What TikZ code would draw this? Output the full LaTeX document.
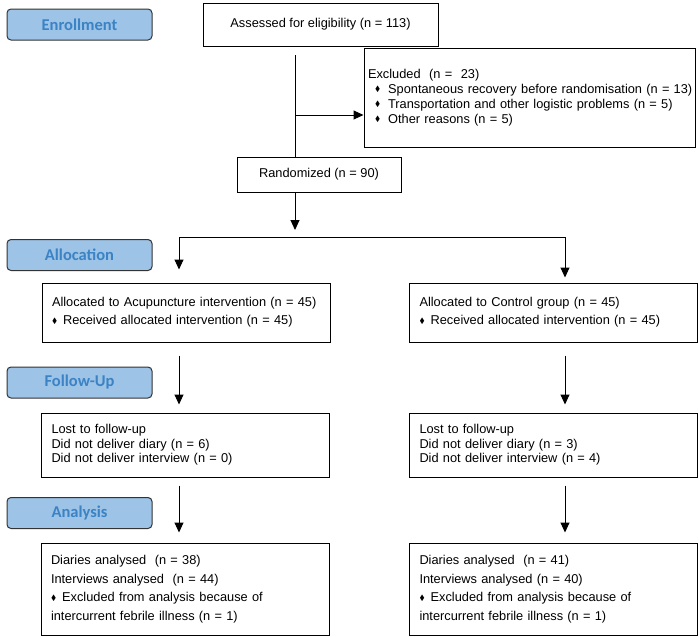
\documentclass[tikz,border=0pt]{standalone}
\usepackage{amssymb}
\usepackage{fontspec}
\setmainfont{Liberation Sans}
\newfontfamily\stagefont{Carlito}
\usetikzlibrary{arrows.meta}
\definecolor{stagefill}{HTML}{9DC3E6}
\definecolor{stagetext}{HTML}{3B83C4}
\newcommand{\dia}{\raisebox{0.2ex}{\scalebox{0.6}{$\blacklozenge$}}}

\begin{document}
\begin{tikzpicture}[
	>={Triangle[width=9pt,length=10pt]},
	line width=1pt,
	x=1pt,y=-1pt,
	font=\fontsize{12.8}{15}\selectfont,
	stage/.style={draw=black!80, fill=stagefill, rounded corners=4pt,
		minimum width=145pt, minimum height=31pt, text=stagetext,
		font=\stagefont\bfseries\fontsize{16.5}{16.5}\selectfont},
	box/.style={draw, inner ysep=0pt, align=left},
	armbox/.style={box, text width=268pt, inner xsep=10pt},
	]
\useasboundingbox (0,0) rectangle (699,637);

% stages
			\node[stage] (enroll)   at (79.5, 24.5) {Enrollment};
			\node[stage] (alloc)    at (79.5, 255) {Allocation};
			\node[stage] (follow)   at (79.5, 382.5) {Follow-Up};
			\node[stage] (analysis) at (79.5, 513) {Analysis};

% enrollment
			\node[box, align=center, minimum width=235pt, minimum height=43pt] (assessed) at (320.5, 24.5) {Assessed for eligibility (n = 113)};
			\node[box, text width=323pt, inner xsep=4pt, minimum height=99pt] (excl) at (529.5, 97.5) {Excluded\ \ (n =\ \ 23)\\
				\mbox{\hspace*{7pt}\dia\hspace{8pt}Spontaneous recovery before randomisation (n = 13)}\\
				\mbox{\hspace*{7pt}\dia\hspace{8pt}Transportation and other logistic problems (n = 5)}\\
				\mbox{\hspace*{7pt}\dia\hspace{8pt}Other reasons (n = 5)}\\[3pt]};
			\node[box, align=center, minimum width=164pt, minimum height=35pt] (random) at (319, 174.5) {Randomized (n = 90)};

% arms
			\node[armbox, minimum height=59pt, font=\fontsize{12.8}{18}\selectfont] (allocL) at (186, 312.5) {Allocated to Acupuncture intervention (n = 45)\\
				\dia\hspace{6pt}Received allocated intervention (n = 45)};
			\node[armbox, minimum height=59pt, font=\fontsize{12.8}{18}\selectfont] (allocR) at (553.5, 312.5) {Allocated to Control group (n = 45)\\
				\dia\hspace{6pt}Received allocated intervention (n = 45)};
			\node[armbox, minimum height=64pt, font=\fontsize{12.8}{14.5}\selectfont] (followL) at (185.5, 445) {Lost to follow-up\\
				Did not deliver diary (n = 6)\\
				Did not deliver interview (n = 0)};
			\node[armbox, minimum height=64pt, font=\fontsize{12.8}{14.5}\selectfont] (followR) at (553.5, 445) {Lost to follow-up\\
				Did not deliver diary (n = 3)\\
				Did not deliver interview (n = 4)};
			\node[armbox, minimum height=92pt, font=\fontsize{12.8}{18.5}\selectfont] (analysisL) at (185, 589) {Diaries analysed\ \ (n = 38)\\
				Interviews analysed\ \ (n = 44)\\
				\dia\hspace{6pt}Excluded from analysis because of\\
				intercurrent febrile illness (n = 1)};
			\node[armbox, minimum height=92pt, font=\fontsize{12.8}{18.5}\selectfont] (analysisR) at (553.5, 589) {Diaries analysed\ \ (n = 41)\\
				Interviews analysed (n = 40)\\
				\dia\hspace{6pt}Excluded from analysis because of\\
				intercurrent febrile illness (n = 1)};

% connectors
			\coordinate (trunk)    at (295, 55);
			\coordinate (excljoin) at (295, 115);
			\coordinate (split)    at (295, 237);
			\coordinate (splitL)   at (179, 237);
			\coordinate (splitR)   at (565, 237);

			\draw (trunk) -- (trunk |- random.north);
			\draw[->] (excljoin) -- (excljoin -| excl.west);
			\draw[->, shorten >=7pt] (random.south -| trunk) -- (split);
			\draw (splitL) -- (splitR);
			\draw[->, shorten >=13pt] (splitL) -- (splitL |- allocL.north);
			\draw[->, shorten >=5pt] (splitR) -- (splitR |- allocR.north);
			\draw[->, shorten <=13pt, shorten >=8pt] (allocL.south -| splitL) -- (followL.north -| splitL);
			\draw[->, shorten <=13pt, shorten >=8pt] (allocR.south -| splitR) -- (followR.north -| splitR);
			\draw[->, shorten <=8pt, shorten >=10pt] (followL.south -| splitL) -- (analysisL.north -| splitL);
			\draw[->, shorten <=8pt, shorten >=10pt] (followR.south -| splitR) -- (analysisR.north -| splitR);

\end{tikzpicture}
\end{document}
